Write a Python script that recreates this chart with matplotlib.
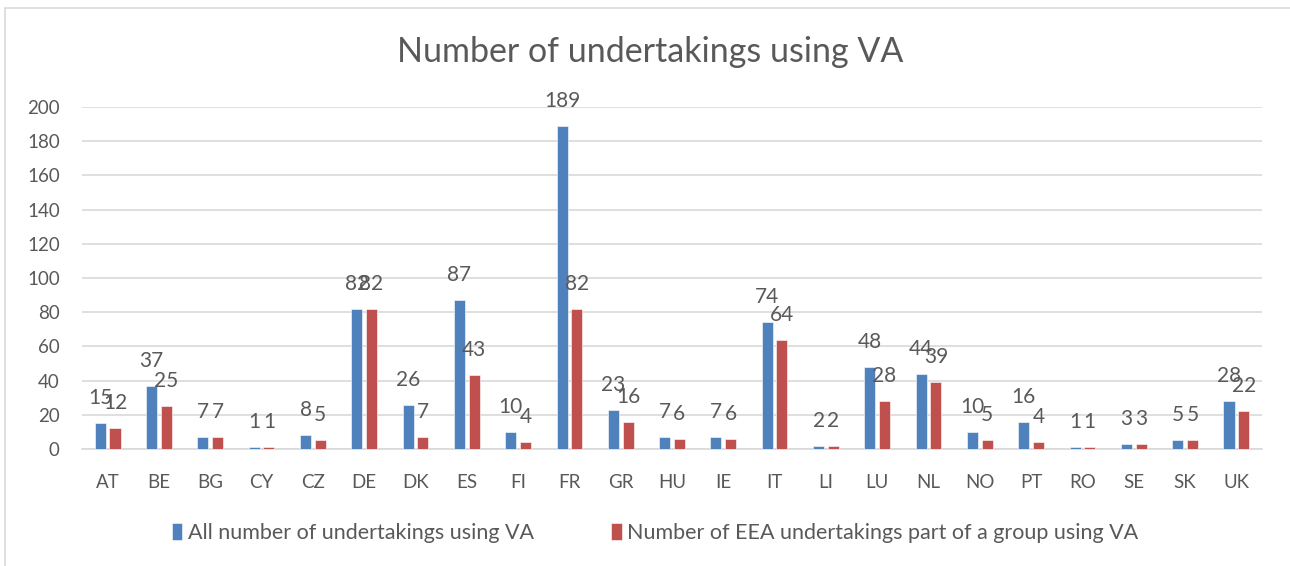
import matplotlib
matplotlib.use('Agg')
from matplotlib import pyplot as plt
from matplotlib.patches import Rectangle
import numpy as np

countries = ['AT', 'BE', 'BG', 'CY', 'CZ', 'DE', 'DK', 'ES', 'FI', 'FR', 'GR', 'HU',
             'IE', 'IT', 'LI', 'LU', 'NL', 'NO', 'PT', 'RO', 'SE', 'SK', 'UK']
all_va = [15, 37, 7, 1, 8, 82, 26, 87, 10, 189, 23, 7, 7, 74, 2, 48, 44, 10, 16, 1, 3, 5, 28]
group_va = [12, 25, 7, 1, 5, 82, 7, 43, 4, 82, 16, 6, 6, 64, 2, 28, 39, 5, 4, 1, 3, 5, 22]
series_names = ['All number of undertakings using VA',
                'Number of EEA undertakings part of a group using VA']
yticks = [0, 20, 40, 60, 80, 100, 120, 140, 160, 180, 200]

blue = '#4F81BD'
red = '#C0504D'
txt = '#595959'
grid = '#D9D9D9'

plt.rcParams['font.family'] = ['Lato', 'DejaVu Sans']

fig = plt.figure(figsize=(12.9, 5.66), dpi=100)
ax = fig.add_axes([82 / 1290, 1 - 449 / 566, (1262 - 82) / 1290, (449 - 107) / 566])

x = np.arange(len(countries))
w = 0.215
off = 0.143
b1 = ax.bar(x - off, all_va, w, color=blue, edgecolor='white', linewidth=0.4,
            label=series_names[0], zorder=3)
b2 = ax.bar(x + off, group_va, w, color=red, edgecolor='white', linewidth=0.4,
            label=series_names[1], zorder=3)

# value labels above each bar (they overlap where bars are close, as in Excel)
for bars, vals in ((b1, all_va), (b2, group_va)):
    for rect, v in zip(bars, vals):
        ax.annotate(str(v), (rect.get_x() + rect.get_width() / 2, v),
                    xytext=(0, 18), textcoords='offset points',
                    ha='center', va='center', fontsize=15, color=txt, zorder=4)

ax.set_xlim(-0.5, len(countries) - 0.5)
ax.set_ylim(0, 200)
ax.set_yticks(yticks)
ax.set_xticks(x)
ax.set_xticklabels(countries)
ax.tick_params(axis='both', length=0, labelsize=13.5, labelcolor=txt)
ax.tick_params(axis='x', pad=18)
ax.tick_params(axis='y', pad=16)
ax.yaxis.grid(True, color=grid, linewidth=1.2, zorder=0)
for s in ['top', 'right', 'left']:
    ax.spines[s].set_visible(False)
ax.spines['bottom'].set_color(grid)
ax.spines['bottom'].set_linewidth(1.2)

fig.text(650 / 1290, 1 - 52 / 566, 'Number of undertakings using VA',
         ha='center', va='center', fontsize=24.5, color=txt)

fig.legend(handles=[b1, b2], loc='center', ncol=2,
           bbox_to_anchor=(655 / 1290, 1 - 533 / 566), frameon=False,
           fontsize=15.5, labelcolor=txt, handlelength=0.5, handleheight=0.8,
           handletextpad=0.25, columnspacing=3.6)

# chart area border
fig.patches.append(Rectangle((5 / 1290, -0.1), 2, 1.1 - 8 / 566,
                             transform=fig.transFigure, fill=False,
                             edgecolor=grid, linewidth=1.2))

fig.savefig('out.png', dpi=100)
